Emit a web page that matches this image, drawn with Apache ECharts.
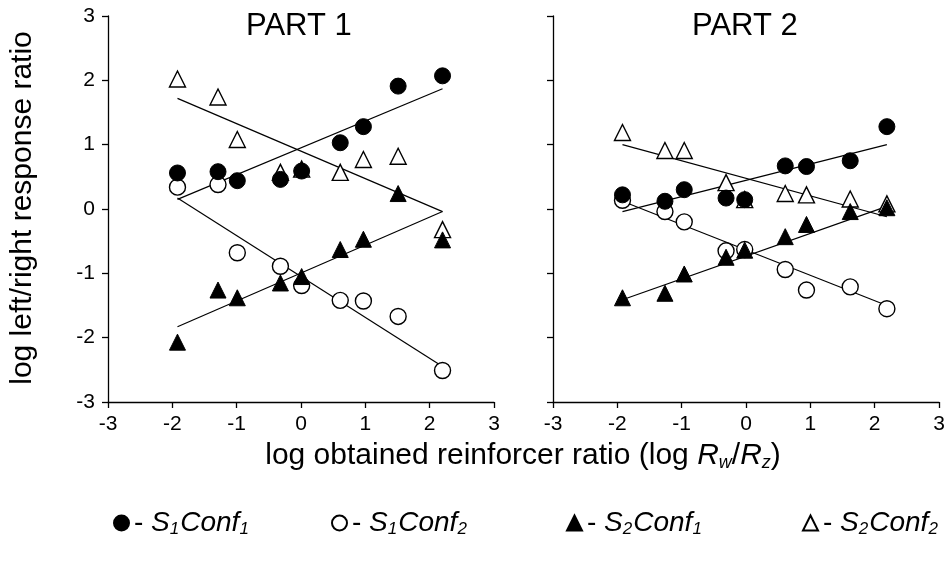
<!DOCTYPE html>
<html><head><meta charset="utf-8">
<script src="https://cdn.jsdelivr.net/npm/echarts@6/dist/echarts.min.js"></script>
<style>html,body{margin:0;padding:0;background:#fff}#c{width:948px;height:567px}</style>
</head><body><div id="c"></div>
<script>
// ---- Data ----
const ticks = [-3, -2, -1, 0, 1, 2, 3];
const xPart1 = [-1.92, -1.29, -0.99, -0.32, 0.01, 0.61, 0.97, 1.51, 2.20];
const xPart2 = [-1.92, -1.26, -0.96, -0.31, -0.02, 0.61, 0.94, 1.62, 2.19];

const p1_S1Conf1 = [0.56, 0.58, 0.44, 0.46, 0.59, 1.03, 1.28, 1.91, 2.07];
const p1_S1Conf2 = [0.34, 0.38, -0.68, -0.89, -1.19, -1.42, -1.43, -1.67, -2.51];
const p1_S2Conf1 = [-2.07, -1.26, -1.38, -1.15, -1.05, -0.63, -0.47, 0.24, -0.48];
const p1_S2Conf2 = [2.02, 1.74, 1.08, 0.57, 0.62, 0.57, 0.77, 0.82, -0.32];

const p2_S1Conf1 = [0.22, 0.12, 0.30, 0.17, 0.145, 0.67, 0.66, 0.75, 1.28];
const p2_S1Conf2 = [0.135, -0.04, -0.20, -0.65, -0.63, -0.94, -1.26, -1.21, -1.55];
const p2_S2Conf1 = [-1.38, -1.31, -1.01, -0.75, -0.64, -0.43, -0.24, -0.04, 0.02];
const p2_S2Conf2 = [1.19, 0.91, 0.91, 0.41, 0.145, 0.24, 0.22, 0.155, 0.08];

// fitted-line endpoints [x, y]
const fit1_S1Conf1 = [[-1.92, 0.15], [2.20, 1.87]];
const fit1_S1Conf2 = [[-1.92, 0.17], [2.20, -2.45]];
const fit1_S2Conf1 = [[-1.92, -1.83], [2.20, -0.04]];
const fit1_S2Conf2 = [[-1.92, 1.72], [2.20, -0.04]];
const fit2_S1Conf1 = [[-1.92, -0.04], [2.19, 1.00]];
const fit2_S1Conf2 = [[-1.92, 0.12], [2.19, -1.50]];
const fit2_S2Conf1 = [[-1.92, -1.41], [2.19, 0.04]];
const fit2_S2Conf2 = [[-1.92, 1.00], [2.19, -0.12]];

const names = ['S1Conf1', 'S1Conf2', 'S2Conf1', 'S2Conf2'];

// ---- Chart ----
const FONT = 'Liberation Sans';
const chart = echarts.init(document.getElementById('c'));
const zip = (xs, ys) => xs.map((x, i) => [x, ys[i]]);

const styles = {
  S1Conf1: { symbol: 'circle', itemStyle: { color: '#000', borderColor: '#000', borderWidth: 1, opacity: 1 } },
  S1Conf2: { symbol: 'circle', itemStyle: { color: '#fff', borderColor: '#000', borderWidth: 1.4, opacity: 1 } },
  S2Conf1: { symbol: 'triangle', itemStyle: { color: '#000', borderColor: '#000', borderWidth: 1, opacity: 1 } },
  S2Conf2: { symbol: 'triangle', itemStyle: { color: '#fff', borderColor: '#000', borderWidth: 1.4, opacity: 1 } }
};

function axisX(idx) {
  return {
    type: 'value', gridIndex: idx, min: -3, max: 3, interval: 1,
    axisLine: { onZero: false, lineStyle: { color: '#000', width: 1.3 } },
    axisTick: { inside: false, length: 6, lineStyle: { color: '#000', width: 1.3 } },
    axisLabel: { color: '#000', fontSize: 21, fontFamily: FONT, margin: 12 },
    splitLine: { show: false }
  };
}
function axisY(idx, labels) {
  return {
    type: 'value', gridIndex: idx, min: -3, max: 3, interval: 1,
    axisLine: { onZero: false, lineStyle: { color: '#000', width: 1.3 } },
    axisTick: { inside: false, length: 6, lineStyle: { color: '#000', width: 1.3 } },
    axisLabel: { show: labels, color: '#000', fontSize: 21, fontFamily: FONT, margin: 13 },
    splitLine: { show: false }
  };
}

const series = [];
function addFit(idx, pts) {
  series.push({ type: 'line', xAxisIndex: idx, yAxisIndex: idx, data: pts, symbol: 'none',
    lineStyle: { color: '#000', width: 1.2 }, silent: true, z: 1 });
}
function addPts(idx, name, xs, ys) {
  series.push(Object.assign({ type: 'scatter', name: name, xAxisIndex: idx, yAxisIndex: idx,
    data: zip(xs, ys), symbolSize: 16, z: 3 }, styles[name]));
}
[fit1_S1Conf1, fit1_S1Conf2, fit1_S2Conf1, fit1_S2Conf2].forEach(f => addFit(0, f));
[fit2_S1Conf1, fit2_S1Conf2, fit2_S2Conf1, fit2_S2Conf2].forEach(f => addFit(1, f));
addPts(0, 'S2Conf2', xPart1, p1_S2Conf2);
addPts(0, 'S1Conf2', xPart1, p1_S1Conf2);
addPts(0, 'S2Conf1', xPart1, p1_S2Conf1);
addPts(0, 'S1Conf1', xPart1, p1_S1Conf1);
addPts(1, 'S2Conf2', xPart2, p2_S2Conf2);
addPts(1, 'S1Conf2', xPart2, p2_S1Conf2);
addPts(1, 'S2Conf1', xPart2, p2_S2Conf1);
addPts(1, 'S1Conf1', xPart2, p2_S1Conf1);

const richTitle = {
  n: { fontSize: 30, fontFamily: FONT, color: '#000' },
  i: { fontSize: 30, fontFamily: FONT, fontStyle: 'italic', color: '#000' },
  s: { fontSize: 18, fontFamily: FONT, fontStyle: 'italic', color: '#000', padding: [14, 0, 0, 0] }
};
const richLegend = {
  n: { fontSize: 28, fontFamily: FONT, color: '#000' },
  i: { fontSize: 28, fontFamily: FONT, fontStyle: 'italic', color: '#000' },
  s: { fontSize: 17, fontFamily: FONT, fontStyle: 'italic', color: '#000', padding: [13, 1, 0, 0] }
};
const legendLeft = [108, 326, 561, 797];
const legends = names.map((nm, k) => ({
  data: [nm], left: legendLeft[k], top: 504, itemWidth: 15, itemHeight: 15, itemGap: 4,
  selectedMode: false,
  formatter: n => '{n|- }{i|S}{s|' + n[1] + '}{i|Conf}{s|' + n[6] + '}',
  textStyle: { rich: richLegend }
}));

chart.setOption({
  animation: false,
  backgroundColor: '#fff',
  grid: [
    { left: 108, top: 16, width: 386, height: 386 },
    { left: 553, top: 16, width: 386, height: 386 }
  ],
  xAxis: [axisX(0), axisX(1)],
  yAxis: [axisY(0, true), axisY(1, false)],
  legend: legends,
  series: series,
  graphic: [
    { type: 'text', left: 246, top: 11, style: { text: 'PART 1', fontSize: 31, fontFamily: FONT, fill: '#000' } },
    { type: 'text', left: 692, top: 11, style: { text: 'PART 2', fontSize: 31, fontFamily: FONT, fill: '#000' } },
    { type: 'text', x: 23, y: 208, rotation: Math.PI / 2,
      style: { text: 'log left/right response ratio', fontSize: 30, fontFamily: FONT, fill: '#000',
        textAlign: 'center', textVerticalAlign: 'middle' } },
    { type: 'text', x: 523, y: 456,
      style: { text: '{n|log obtained reinforcer ratio (log }{i|R}{s|w}{n|/}{i|R}{s|z}{n|)}',
        rich: richTitle, textAlign: 'center', textVerticalAlign: 'middle' } }
  ]
});
</script></body></html>
